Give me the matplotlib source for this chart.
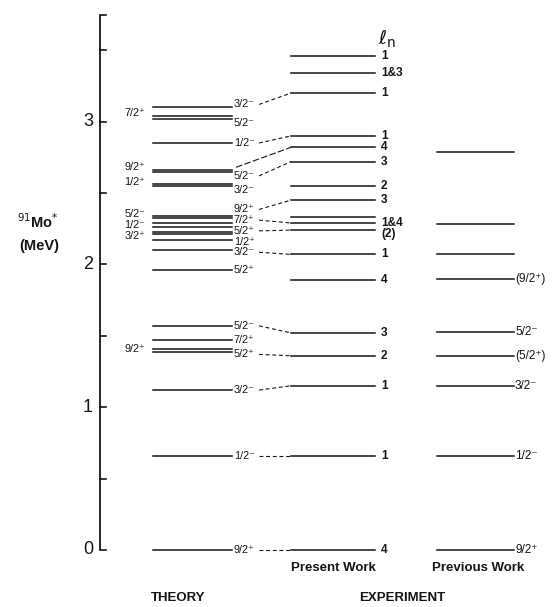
import matplotlib
matplotlib.use("Agg")
import matplotlib.pyplot as plt

plt.rcParams['font.family'] = ['Liberation Sans', 'DejaVu Sans']

# ---- level energies (MeV) ----
theory_E = [0.00, 0.66, 1.12, 1.39, 1.41, 1.47, 1.57, 1.96,
            2.10, 2.17, 2.21, 2.23, 2.26, 2.29, 2.325, 2.34,
            2.55, 2.56, 2.65, 2.66, 2.85, 3.02, 3.04, 3.10]
theory_J = ["9/2⁺", "1/2⁻", "3/2⁻", "5/2⁺", "9/2⁺", "7/2⁺", "5/2⁻", "5/2⁺",
            "3/2⁻", "1/2⁺", "3/2⁺", "5/2⁺", "1/2⁻", "7/2⁺", "5/2⁻", "9/2⁺",
            "3/2⁻", "1/2⁺", "5/2⁻", "9/2⁺", "1/2⁻", "5/2⁻", "7/2⁺", "3/2⁻"]
theory_side = ["R", "R", "R", "R", "L", "R", "R", "R",
               "R", "R", "L", "R", "L", "R", "L", "R",
               "R", "L", "R", "L", "R", "R", "L", "R"]
# where each spin label sits when the levels crowd together
theory_label_E = [0.00, 0.66, 1.12, 1.37, 1.41, 1.47, 1.57, 1.96,
                  2.085, 2.16, 2.20, 2.235, 2.275, 2.31, 2.35, 2.385,
                  2.52, 2.58, 2.62, 2.68, 2.85, 2.99, 3.06, 3.12]

present_E = [0.00, 0.66, 1.15, 1.36, 1.52, 1.89, 2.07, 2.24, 2.29, 2.33,
             2.45, 2.55, 2.72, 2.82, 2.90, 3.20, 3.34, 3.46]
present_ln = ["4", "1", "1", "2", "3", "4", "1", "(2)", "1&4", "",
              "3", "2", "3", "4", "1", "1", "1&3", "1"]
present_label_E = [0.00, 0.66, 1.15, 1.36, 1.52, 1.89, 2.07, 2.21, 2.29, 2.33,
                   2.45, 2.55, 2.72, 2.82, 2.90, 3.20, 3.34, 3.46]

previous_E = [0.00, 0.66, 1.15, 1.36, 1.53, 1.90, 2.07, 2.28, 2.79]
previous_J = ["9/2⁺", "1/2⁻", "3/2⁻", "(5/2⁺)", "5/2⁻", "(9/2⁺)", "", "", ""]

# theory level index -> present-work level index
links = [(0, 0), (1, 1), (2, 2), (3, 3), (6, 4), (8, 6), (11, 7), (13, 8),
         (15, 10), (18, 12), (19, 13), (20, 14), (23, 15)]

axis_ticks = [0.0, 0.5, 1.0, 1.5, 2.0, 2.5, 3.0, 3.5]
axis_labels = {0.0: "0", 1.0: "1", 2.0: "2", 3.0: "3"}
axis_top = 3.75

# ---- figure ----
W, H = 556, 607
fig = plt.figure(figsize=(W / 100, H / 100), dpi=100)
ax = fig.add_axes([0, 0, 1, 1])
px = 142.8                       # pixels per MeV
y0 = 550                         # pixel row of 0 MeV
ax.set_xlim(0, W)
ax.set_ylim((y0 - H) / px, y0 / px)
ax.axis("off")

ink = "#151515"
fs = 7.8

# energy axis
ax.plot([100, 100], [0, axis_top], color=ink, lw=1.3, solid_capstyle="butt")
for t in axis_ticks + [axis_top]:
    ax.plot([100, 106], [t, t], color=ink, lw=1.2)
for t, s in axis_labels.items():
    ax.text(93, t, s, ha="right", va="center", fontsize=13, color=ink)
ax.text(38, 2.30, r"$^{91}$Mo$^{*}$", ha="center", va="center", fontsize=10.5,
        color=ink, fontweight="bold")
ax.text(39, 2.13, "(MeV)", ha="center", va="center", fontsize=10.5, color=ink,
        fontweight="bold")

# theory column
tx0, tx1 = 153, 232
for E, J, side, lE in zip(theory_E, theory_J, theory_side, theory_label_E):
    ax.plot([tx0, tx1], [E, E], color=ink, lw=1.1)
    if side == "R":
        ax.text(tx1 + 2, lE, J, ha="left", va="center", fontsize=fs, color=ink)
    else:
        ax.text(tx0 - 8, lE, J, ha="right", va="center", fontsize=fs, color=ink)

# present work column
px0, px1 = 291, 375
for E, ln, lE in zip(present_E, present_ln, present_label_E):
    ax.plot([px0, px1], [E, E], color=ink, lw=1.1)
    if ln:
        ax.text(px1 + 6, lE, ln, ha="left", va="center", fontsize=8.5,
                color=ink, fontweight="bold")
ax.text(378, 3.58, r"$\ell_{\mathrm{n}}$", ha="left", va="center", fontsize=14, color=ink)

# previous work column
qx0, qx1 = 437, 514
for E, J in zip(previous_E, previous_J):
    ax.plot([qx0, qx1], [E, E], color=ink, lw=1.1)
    if J:
        ax.text(qx1 + 1, E, J, ha="left", va="center", fontsize=8.5, color=ink)

# correspondence lines between theory and experiment
for i, j in links:
    start = 236 if i == 19 else 259
    style = (0, (6, 2)) if i == 19 else (0, (3.5, 2.5))
    ax.plot([start, px0], [theory_label_E[i], present_E[j]], color=ink, lw=0.8,
            linestyle=style)

# column captions
ax.text(333, (y0 - 568) / px, "Present Work", ha="center", va="center",
        fontsize=9.5, color=ink, fontweight="bold")
ax.text(478, (y0 - 568) / px, "Previous Work", ha="center", va="center",
        fontsize=9.5, color=ink, fontweight="bold")
ax.text(178, (y0 - 598) / px, "THEORY", ha="center", va="center",
        fontsize=9.5, color=ink, fontweight="bold")
ax.text(402, (y0 - 598) / px, "EXPERIMENT", ha="center", va="center",
        fontsize=9.5, color=ink, fontweight="bold")

fig.savefig("out.png", dpi=100, facecolor="white")
